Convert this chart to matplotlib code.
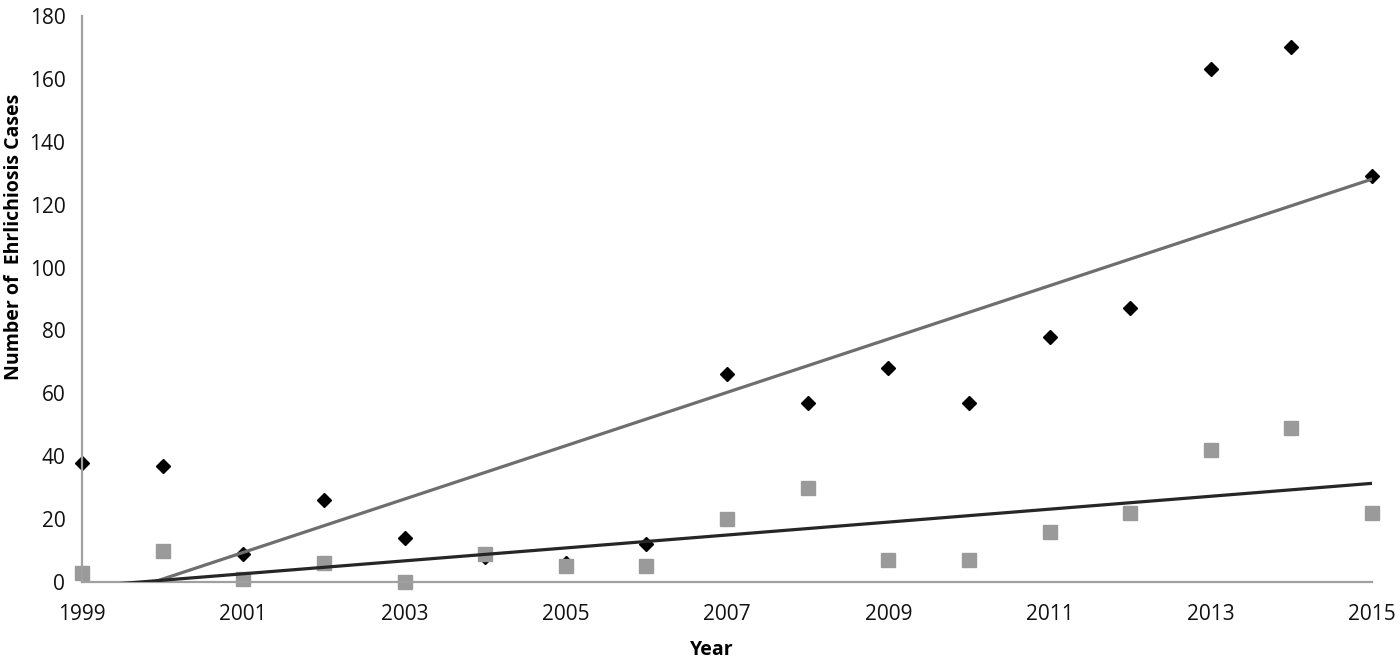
import numpy as np
import matplotlib.pyplot as plt

# Ehrlichiosis cases per year
years = np.arange(1999, 2016)
cases_a = [38, 37, 9, 26, 14, 8, 6, 12, 66, 57, 68, 57, 78, 87, 163, 170, 129]
cases_b = [3, 10, 1, 6, 0, 9, 5, 5, 20, 30, 7, 7, 16, 22, 42, 49, 22]
x_ticks = list(range(1999, 2016, 2))
y_ticks = list(range(0, 181, 20))

plt.rcParams['font.family'] = ['Open Sans', 'DejaVu Sans']

fig = plt.figure(figsize=(14, 6.63), dpi=100)
ax = fig.add_axes([82 / 1400, 81 / 663, 1290 / 1400, 566 / 663])

ax.plot(years, cases_a, linestyle='none', marker='D', markersize=7.5,
        color='black', clip_on=False, zorder=2)
ax.plot(years, cases_b, linestyle='none', marker='s', markersize=9.5,
        color='#9a9a9a', clip_on=False, zorder=2)

# linear trend lines
fit_a = np.polyfit(years, cases_a, 1)
fit_b = np.polyfit(years, cases_b, 1)
ax.plot(years, np.polyval(fit_a, years), color='#6e6e6e', lw=2.3, zorder=3)
ax.plot(years, np.polyval(fit_b, years), color='#262626', lw=2.3, zorder=3)

ax.set_xlim(1999, 2015)
ax.set_ylim(0, 180)
ax.set_xticks(x_ticks)
ax.set_yticks(y_ticks)
ax.tick_params(axis='both', length=0, labelsize=15, colors='#111111')
ax.tick_params(axis='x', pad=16)
ax.tick_params(axis='y', pad=12)

for s in ['top', 'right']:
    ax.spines[s].set_visible(False)
for s in ['left', 'bottom']:
    ax.spines[s].set_color('#a0a0a0')
    ax.spines[s].set_linewidth(1.6)

fig.text(14 / 1400, 1 - 237 / 663, 'Number of  Ehrlichiosis Cases', rotation=90,
         ha='center', va='center', fontsize=14, fontweight='bold')
fig.text(712 / 1400, 1 - 650 / 663, 'Year', ha='center', va='center',
         fontsize=14, fontweight='bold')

fig.savefig('out.png', dpi=100)
